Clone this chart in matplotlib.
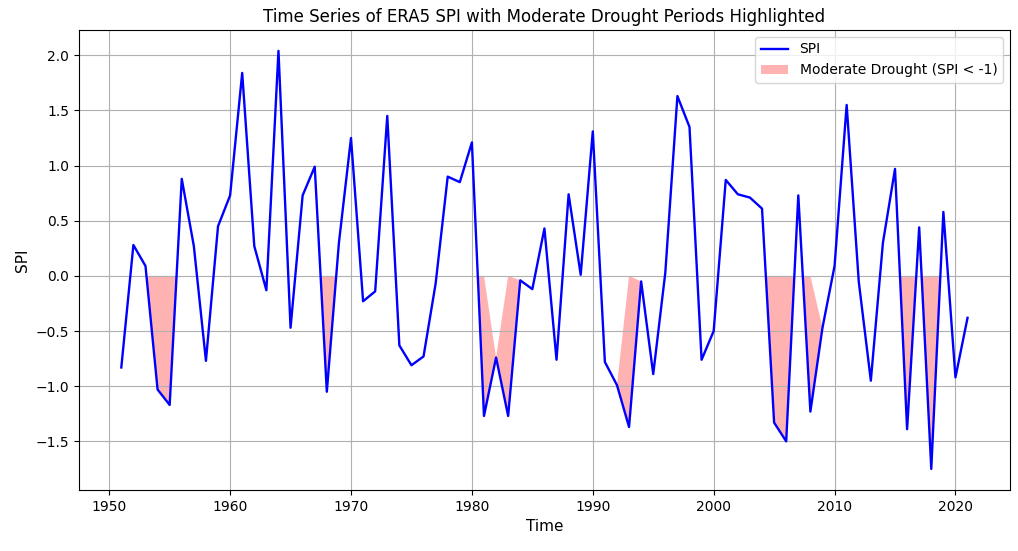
import matplotlib
matplotlib.use('Agg')
import matplotlib.pyplot as plt
import numpy as np
# .................................................. data
years=np.arange(1951,2022)
spi=np.array([
 -0.83, 0.28, 0.09,-1.03,-1.17, 0.88, 0.27,-0.77, 0.45, 0.73,   # 1951-1960
  1.84, 0.27,-0.13, 2.04,-0.47, 0.73, 0.99,-1.05, 0.30, 1.25,   # 1961-1970
 -0.23,-0.14, 1.45,-0.63,-0.81,-0.73,-0.07, 0.90, 0.85, 1.21,   # 1971-1980
 -1.27,-0.74,-1.27,-0.04,-0.12, 0.43,-0.76, 0.74, 0.01, 1.31,   # 1981-1990
 -0.78,-0.99,-1.37,-0.05,-0.89, 0.03, 1.63, 1.35,-0.76,-0.50,   # 1991-2000
  0.87, 0.74, 0.71, 0.61,-1.33,-1.50, 0.73,-1.23,-0.47, 0.09,   # 2001-2010
  1.55,-0.05,-0.95, 0.30, 0.97,-1.39, 0.44,-1.75, 0.58,-0.92,   # 2011-2020
 -0.38])                                                          # 2021
threshold=-1
# .................................................. figure
fig=plt.figure(figsize=(10.18,5.51),dpi=100)
ax=fig.add_axes([0.0776,0.111,0.9144,0.8346])
ax.plot(years,spi,color='blue',linewidth=1.7,label='SPI')
ax.fill_between(years,spi,0,where=(spi<threshold),interpolate=True,
                color='red',alpha=0.3,linewidth=0,
                label='Moderate Drought (SPI < -1)')
ax.set_title('Time Series of ERA5 SPI with Moderate Drought Periods Highlighted',fontsize=12)
ax.set_xlabel('Time',fontsize=11)
ax.set_ylabel('SPI',fontsize=11)
ax.grid(True)
ax.legend(loc='upper right')
# ....................................................................
fig.savefig('out.png',dpi=100)
